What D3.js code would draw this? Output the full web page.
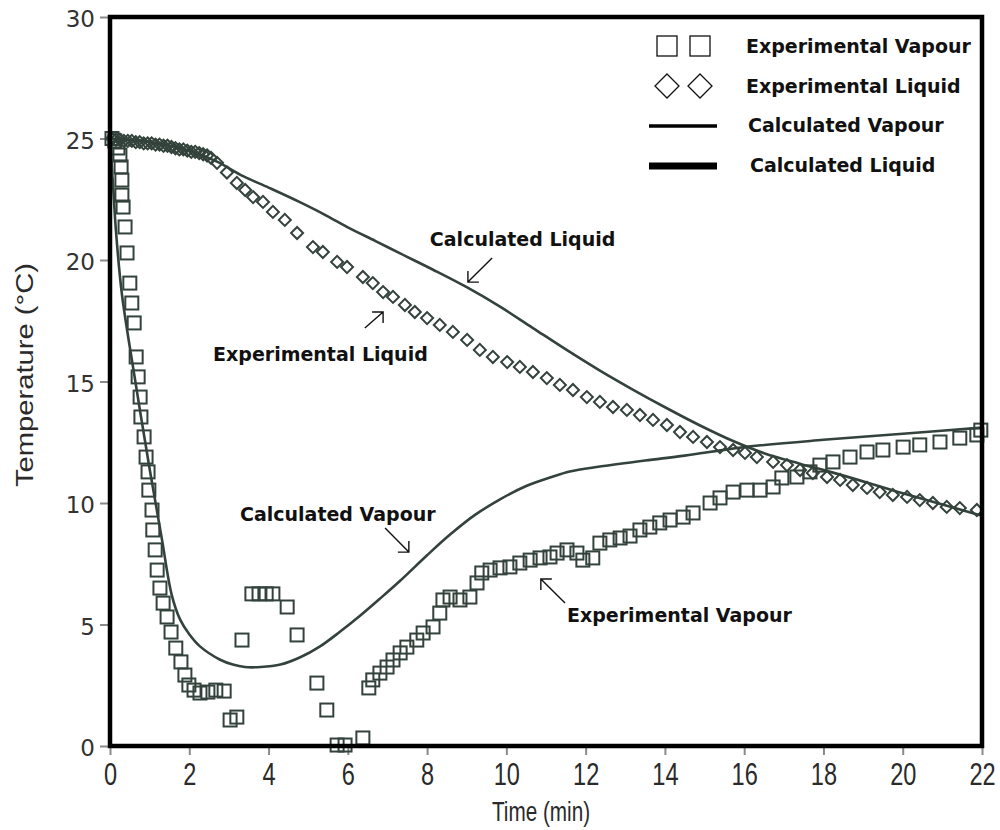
<!DOCTYPE html>
<html>
<head>
<meta charset="utf-8">
<script src="https://cdn.jsdelivr.net/npm/d3@7/dist/d3.min.js"></script>
<style>
  body { margin: 0; background: #fff; }
  svg { display: block; }
</style>
</head>
<body>
<svg id="chart" width="1000" height="830"></svg>
<script>
// ---- Measured series -------------------------------------------------------
// Experimental vapour temperature (squares)
const expVapourTime = [0.05, 0.12, 0.20, 0.25, 0.28, 0.30, 0.30, 0.33, 0.38, 0.43, 0.50, 0.55, 0.61, 0.66, 0.71, 0.76,
  0.78, 0.86, 0.91, 0.96, 0.98, 1.06, 1.08, 1.14, 1.19, 1.26, 1.34, 1.44, 1.54, 1.66, 1.79, 1.89, 1.99, 2.12,
  2.27, 2.47, 2.67, 2.88, 3.03, 3.20, 3.33, 3.58, 3.76, 3.94, 4.11, 4.47, 4.72, 5.22, 5.47, 5.73, 5.93, 6.38,
  6.53, 6.63, 6.81, 6.99, 7.14, 7.32, 7.49, 7.74, 7.90, 8.15, 8.32, 8.40, 8.58, 8.83, 9.08, 9.26, 9.38, 9.59,
  9.84, 10.09, 10.34, 10.60, 10.85, 11.10, 11.28, 11.53, 11.78, 11.93, 12.18, 12.36, 12.61, 12.87, 13.12, 13.37,
  13.62, 13.87, 14.13, 14.46, 14.71, 15.14, 15.39, 15.72, 16.07, 16.40, 16.73, 16.95, 17.33, 17.66, 17.91, 18.24,
  18.67, 19.10, 19.50, 20.01, 20.43, 20.94, 21.44, 21.87, 21.97];
const expVapourTemp = [25.0, 24.9, 24.61, 24.32, 23.83, 23.29, 22.67, 22.18, 21.36, 20.29, 19.05, 18.23, 17.41, 16.01, 15.19, 14.36,
  13.54, 12.72, 11.89, 11.28, 10.53, 9.71, 8.89, 8.07, 7.24, 6.50, 5.88, 5.31, 4.69, 4.03, 3.46, 2.92, 2.51, 2.30,
  2.18, 2.22, 2.30, 2.26, 1.07, 1.19, 4.36, 6.26, 6.26, 6.26, 6.26, 5.72, 4.57, 2.59, 1.48, 0.04, 0.04, 0.33,
  2.39, 2.72, 3.00, 3.25, 3.54, 3.83, 4.07, 4.36, 4.65, 4.90, 5.47, 6.01, 6.13, 6.01, 6.13, 6.71, 7.12, 7.24,
  7.33, 7.37, 7.53, 7.65, 7.74, 7.78, 7.94, 8.07, 7.94, 7.65, 7.74, 8.35, 8.48, 8.56, 8.64, 8.89,
  9.01, 9.18, 9.30, 9.42, 9.59, 10.00, 10.21, 10.45, 10.53, 10.53, 10.66, 11.03, 11.07, 11.28, 11.56, 11.69,
  11.89, 12.10, 12.18, 12.30, 12.39, 12.51, 12.67, 12.80, 13.00];

// Experimental liquid temperature (diamonds)
const expLiquidTime = [0.05, 0.15, 0.25, 0.35, 0.45, 0.55, 0.65, 0.75, 0.85, 0.95, 1.05, 1.15, 1.25, 1.35, 1.45, 1.55,
  1.65, 1.75, 1.85, 1.95, 2.05, 2.15, 2.25, 2.35, 2.45, 2.55, 2.70, 2.95, 3.20, 3.41, 3.61, 3.86, 4.11, 4.41,
  4.72, 5.12, 5.37, 5.73, 5.98, 6.38, 6.63, 6.89, 7.14, 7.44, 7.69, 8.00, 8.32, 8.65, 9.01, 9.33, 9.66, 10.02,
  10.34, 10.67, 11.02, 11.35, 11.68, 12.03, 12.36, 12.69, 13.04, 13.37, 13.70, 14.05, 14.38, 14.71, 15.06, 15.39,
  15.72, 16.02, 16.32, 16.73, 17.08, 17.41, 17.73, 18.09, 18.42, 18.74, 19.10, 19.42, 19.75, 20.11, 20.43, 20.76,
  21.11, 21.44, 21.87];
const expLiquidTemp = [25.0, 24.95, 24.95, 24.9, 24.9, 24.9, 24.85, 24.85, 24.8, 24.8, 24.8, 24.75, 24.75, 24.7, 24.7, 24.65,
  24.6, 24.55, 24.55, 24.5, 24.45, 24.45, 24.4, 24.35, 24.3, 24.2, 24.0, 23.6, 23.17, 22.88, 22.59, 22.39, 21.98, 21.65,
  21.11, 20.53, 20.33, 19.92, 19.71, 19.30, 19.05, 18.68, 18.48, 18.15, 17.86, 17.61, 17.33, 17.04, 16.71, 16.30, 16.01, 15.80,
  15.60, 15.39, 15.14, 14.86, 14.65, 14.36, 14.16, 13.95, 13.83, 13.62, 13.42, 13.21, 12.92, 12.72, 12.51, 12.30,
  12.18, 12.06, 11.89, 11.69, 11.56, 11.36, 11.23, 11.07, 10.95, 10.74, 10.62, 10.45, 10.33, 10.25, 10.12, 10.00,
  9.84, 9.79, 9.71];

// Model predictions (lines)
const calcVapourTime = [0, 0.08, 0.15, 0.3, 0.6, 1.0, 1.3, 1.56, 1.77, 2.0, 2.27, 2.78, 3.1, 3.4, 3.8, 4.3, 4.8, 5.3,
  5.8, 6.3, 6.8, 7.32, 8.0, 8.58, 9.2, 9.84, 10.5, 11.1, 11.6, 12.36, 13.5, 14.5, 16.0, 18.0, 20.0, 22.0];
const calcVapourTemp = [25.0, 23.0, 21.2, 18.6, 15.4, 11.4, 8.6, 6.2, 5.2, 4.6, 4.1, 3.55, 3.35, 3.25, 3.25, 3.35, 3.65, 4.1,
  4.7, 5.35, 6.05, 6.8, 7.85, 8.7, 9.5, 10.15, 10.7, 11.05, 11.3, 11.5, 11.75, 11.95, 12.3, 12.6, 12.85, 13.1];

const calcLiquidTime = [0, 1, 2, 2.7, 3.36, 4.0, 4.79, 5.4, 6.05, 6.7, 7.32, 8.15, 9.0, 9.84, 10.67, 11.5, 12.36, 13.2,
  14.05, 14.9, 15.72, 16.5, 17.4, 18.24, 20.0, 21.95];
const calcLiquidTemp = [25.0, 24.85, 24.5, 24.05, 23.45, 22.98, 22.38, 21.88, 21.3, 20.78, 20.27, 19.6, 18.88, 18.08, 17.2, 16.32, 15.45, 14.66,
  13.9, 13.18, 12.55, 12.05, 11.62, 11.25, 10.4, 9.5];

// Axis ticks
const timeTicks = [0, 2, 4, 6, 8, 10, 12, 14, 16, 18, 20, 22];
const tempTicks = [0, 5, 10, 15, 20, 25, 30];

// Legend entries and in-plot callouts
const legendLabels = ["Experimental Vapour", "Experimental Liquid", "Calculated Vapour", "Calculated Liquid"];
const calloutLabels = ["Calculated Liquid", "Experimental Liquid", "Calculated Vapour", "Experimental Vapour"];
const calloutTextAt = [[8.07, 20.58], [2.60, 15.84], [3.28, 9.26], [11.53, 5.10]];
const calloutArrowFrom = [[9.64, 20.08], [6.43, 17.20], [6.94, 8.97], [11.48, 5.88]];
const calloutArrowTo = [[9.03, 19.09], [6.89, 17.86], [7.54, 7.98], [10.87, 6.87]];

// ---- Drawing ---------------------------------------------------------------
const svg = d3.select("#chart");
const plotLeft = 110, plotRight = 982, plotTop = 17, plotBottom = 746;
const ink = "#34423c";

const x = d3.scaleLinear().domain([0, 22]).range([plotLeft, plotRight]);
const y = d3.scaleLinear().domain([0, 30]).range([plotBottom, plotTop]);

svg.append("rect").attr("width", 1000).attr("height", 830).attr("fill", "#fff");

// Axes (ticks outside the frame)
const yAxis = svg.append("g")
  .attr("transform", `translate(${plotLeft},0)`)
  .call(d3.axisLeft(y).tickValues(tempTicks).tickSize(10).tickPadding(5).tickFormat(d3.format("d")));
yAxis.select(".domain").remove();
yAxis.selectAll(".tick line").attr("stroke", "#8a8a8a").attr("stroke-width", 2);
yAxis.selectAll(".tick text")
  .attr("font-family", "'DejaVu Sans', Verdana, sans-serif")
  .attr("font-size", 23).attr("fill", "#333")
  .attr("dy", "0.42em");

const xAxis = svg.append("g")
  .attr("transform", `translate(0,${plotBottom})`)
  .call(d3.axisBottom(x).tickValues(timeTicks).tickSize(9).tickPadding(8).tickFormat(d3.format("d")));
xAxis.select(".domain").remove();
xAxis.selectAll(".tick line").attr("stroke", "#8a8a8a").attr("stroke-width", 2);
xAxis.selectAll(".tick text")
  .attr("font-family", "'Liberation Sans', Arial, sans-serif")
  .attr("font-size", 31).attr("fill", "#2a2a2a")
  .attr("transform", "scale(0.76,1)");

// Axis titles
svg.append("text")
  .attr("transform", `translate(33,375) rotate(-90)`)
  .attr("text-anchor", "middle")
  .attr("font-family", "'Liberation Sans', Arial, sans-serif")
  .attr("font-size", 23).attr("fill", "#2a2a2a")
  .attr("textLength", 224).attr("lengthAdjust", "spacingAndGlyphs")
  .text("Temperature (°C)");

svg.append("text")
  .attr("transform", "translate(541,821) scale(0.74,1)")
  .attr("text-anchor", "middle")
  .attr("font-family", "'Liberation Sans', Arial, sans-serif")
  .attr("font-size", 28).attr("fill", "#2a2a2a")
  .text("Time (min)");

// Model curves
const line = d3.line().x(d => x(d[0])).y(d => y(d[1])).curve(d3.curveMonotoneX);
svg.append("path")
  .datum(calcLiquidTime.map((t, i) => [t, calcLiquidTemp[i]]))
  .attr("d", line).attr("fill", "none").attr("stroke", ink).attr("stroke-width", 2.6);
svg.append("path")
  .datum(calcVapourTime.map((t, i) => [t, calcVapourTemp[i]]))
  .attr("d", d3.line().x(d => x(d[0])).y(d => y(d[1])).curve(d3.curveCatmullRom.alpha(0.5)))
  .attr("fill", "none").attr("stroke", ink).attr("stroke-width", 2.6);

// Experimental points
const sq = 13;
svg.append("g").selectAll("rect")
  .data(expVapourTime.map((t, i) => [t, expVapourTemp[i]]))
  .join("rect")
  .attr("x", d => x(d[0]) - sq / 2).attr("y", d => y(d[1]) - sq / 2)
  .attr("width", sq).attr("height", sq)
  .attr("fill", "none").attr("stroke", ink).attr("stroke-width", 2);

const dm = 8.5;
svg.append("g").selectAll("rect")
  .data(expLiquidTime.map((t, i) => [t, expLiquidTemp[i]]))
  .join("rect")
  .attr("x", -dm / 2).attr("y", -dm / 2).attr("width", dm).attr("height", dm)
  .attr("transform", d => `translate(${x(d[0])},${y(d[1])}) rotate(45)`)
  .attr("fill", "none").attr("stroke", ink).attr("stroke-width", 2);

// Frame
svg.append("rect")
  .attr("x", plotLeft).attr("y", plotTop).attr("width", plotRight - plotLeft).attr("height", plotBottom - plotTop)
  .attr("fill", "none").attr("stroke", "#000").attr("stroke-width", 4.5);

// Legend
const legendFont = "'DejaVu Sans', Verdana, sans-serif";
const legendRowsY = [46, 86, 125, 165];
const legendTextX = [746, 746, 748, 750];
legendLabels.forEach((lab, i) => {
  svg.append("text")
    .attr("x", legendTextX[i]).attr("y", legendRowsY[i] + 7)
    .attr("font-family", legendFont).attr("font-weight", "bold")
    .attr("font-size", 19).attr("fill", "#111")
    .text(lab);
});
const g = svg.append("g");
[667, 700].forEach(cx => {
  g.append("rect").attr("x", cx - 10).attr("y", legendRowsY[0] - 10).attr("width", 20).attr("height", 20)
    .attr("fill", "none").attr("stroke", "#111").attr("stroke-width", 1.3);
  g.append("path")
    .attr("d", `M${cx},${legendRowsY[1] - 12}L${cx + 12},${legendRowsY[1]}L${cx},${legendRowsY[1] + 12}L${cx - 12},${legendRowsY[1]}Z`)
    .attr("fill", "none").attr("stroke", "#111").attr("stroke-width", 1.3);
});
g.append("line").attr("x1", 649).attr("x2", 717).attr("y1", legendRowsY[2] + 1).attr("y2", legendRowsY[2] + 1)
  .attr("stroke", "#000").attr("stroke-width", 3.5);
g.append("line").attr("x1", 649).attr("x2", 717).attr("y1", legendRowsY[3] + 1).attr("y2", legendRowsY[3] + 1)
  .attr("stroke", "#000").attr("stroke-width", 7);

// Callouts with arrows
calloutLabels.forEach((lab, i) => {
  svg.append("text")
    .attr("x", x(calloutTextAt[i][0])).attr("y", y(calloutTextAt[i][1]))
    .attr("font-family", legendFont).attr("font-weight", "bold")
    .attr("font-size", 19).attr("fill", "#111")
    .text(lab);
  const x0 = x(calloutArrowFrom[i][0]), y0 = y(calloutArrowFrom[i][1]);
  const x1 = x(calloutArrowTo[i][0]), y1 = y(calloutArrowTo[i][1]);
  const sx = Math.sign(x0 - x1), sy = Math.sign(y0 - y1);
  svg.append("path")
    .attr("d", `M${x0},${y0}L${x1},${y1}M${x1 + sx * 11},${y1}L${x1},${y1}L${x1},${y1 + sy * 11}`)
    .attr("fill", "none").attr("stroke", "#111").attr("stroke-width", 1.4);
});
</script>
</body>
</html>
